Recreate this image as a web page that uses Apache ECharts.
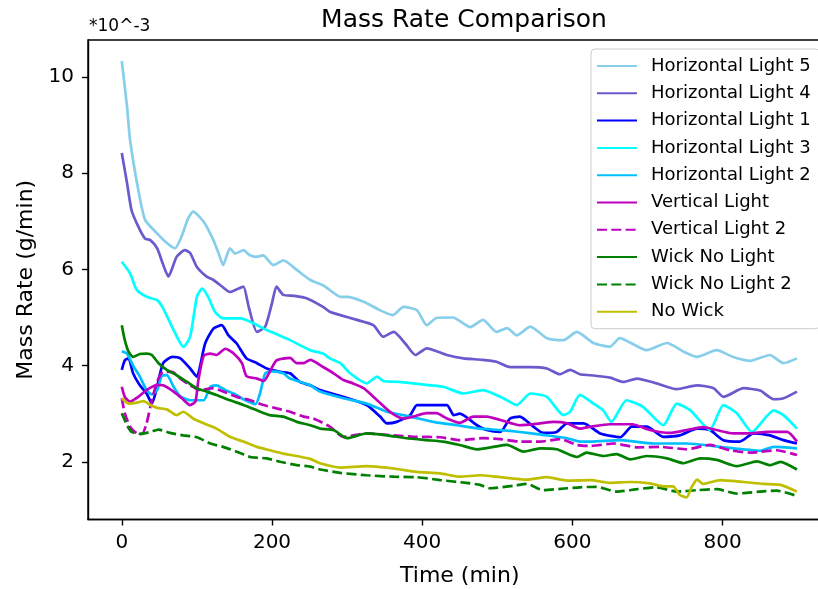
<!DOCTYPE html>
<html>
<head>
<meta charset="utf-8">
<script src="https://cdn.jsdelivr.net/npm/echarts@6/dist/echarts.min.js"></script>
<style>
  html, body { margin: 0; padding: 0; background: #fff; }
  #main { width: 818px; height: 589px; }
</style>
</head>
<body>
<div id="main"></div>
<script>
// values, [time (min), mass rate (*10^-3 g/min)]
var horizontalLight5 = [[0,10.33],[7,9.38],[11,8.69],[22,7.65],[31,7.03],[47,6.75],[60,6.55],[71,6.44],[80,6.7],[88,7.05],[95,7.2],[109,6.99],[122,6.61],[129,6.33],[135,6.09],[144,6.44],[151,6.33],[162,6.4],[170,6.3],[179,6.26],[188,6.29],[202,6.09],[211,6.16],[215,6.19],[233,5.99],[251,5.78],[268,5.67],[277,5.57],[291,5.43],[300,5.43],[322,5.33],[344,5.15],[361,5.05],[375,5.22],[393,5.15],[406,4.84],[419,4.99],[441,5.0],[464,4.8],[481,4.95],[499,4.7],[513,4.78],[526,4.63],[544,4.81],[566,4.57],[588,4.53],[606,4.7],[628,4.47],[650,4.39],[663,4.57],[699,4.32],[726,4.47],[748,4.29],[766,4.18],[792,4.32],[814,4.18],[837,4.1],[863,4.22],[881,4.05],[899,4.15]];
var horizontalLight4 = [[0,8.42],[7,7.79],[13,7.23],[22,6.89],[31,6.64],[38,6.61],[47,6.44],[55,6.1],[62,5.85],[73,6.26],[84,6.4],[91,6.34],[100,6.05],[113,5.85],[122,5.78],[133,5.65],[144,5.53],[155,5.6],[162,5.64],[169,5.22],[180,4.7],[191,4.81],[200,5.3],[206,5.64],[215,5.47],[230,5.45],[246,5.4],[268,5.22],[277,5.12],[291,5.05],[313,4.95],[335,4.84],[348,4.6],[362,4.7],[378,4.45],[391,4.22],[406,4.36],[433,4.22],[455,4.15],[480,4.12],[499,4.08],[517,3.97],[544,3.97],[566,3.94],[583,3.82],[597,3.91],[610,3.82],[624,3.8],[650,3.75],[668,3.66],[686,3.73],[712,3.63],[739,3.51],[766,3.59],[788,3.53],[801,3.35],[828,3.53],[850,3.48],[868,3.3],[881,3.32],[899,3.46]];
var horizontalLight1 = [[0,3.91],[4,4.11],[9,4.15],[15,3.84],[24,3.59],[33,3.42],[40,3.21],[47,3.56],[55,4.05],[67,4.18],[78,4.15],[91,3.94],[100,3.77],[104,3.97],[111,4.46],[122,4.77],[133,4.84],[142,4.63],[153,4.46],[166,4.15],[180,4.05],[193,3.94],[211,3.87],[224,3.84],[237,3.66],[251,3.59],[264,3.49],[295,3.35],[326,3.18],[344,2.94],[353,2.8],[366,2.83],[384,2.97],[393,3.18],[415,3.18],[433,3.18],[442,2.97],[450,3.0],[473,2.76],[486,2.66],[504,2.62],[517,2.9],[530,2.94],[548,2.73],[561,2.6],[579,2.62],[593,2.8],[615,2.8],[637,2.59],[664,2.51],[679,2.73],[699,2.73],[721,2.52],[743,2.55],[766,2.69],[783,2.66],[801,2.45],[823,2.42],[841,2.59],[863,2.55],[881,2.45],[899,2.38]];
var horizontalLight3 = [[0,6.16],[11,5.92],[20,5.57],[33,5.43],[47,5.36],[55,5.19],[69,4.74],[82,4.39],[91,4.6],[100,5.43],[107,5.6],[115,5.43],[124,5.12],[135,4.98],[158,4.98],[171,4.91],[193,4.74],[224,4.53],[251,4.32],[268,4.25],[277,4.15],[291,4.05],[304,3.84],[326,3.63],[340,3.77],[348,3.68],[370,3.66],[388,3.63],[411,3.59],[428,3.56],[455,3.42],[481,3.49],[508,3.32],[526,3.18],[544,3.42],[566,3.35],[588,2.97],[597,3.04],[610,3.39],[628,3.21],[641,3.07],[652,2.83],[672,3.28],[694,3.14],[721,2.76],[739,3.21],[757,3.07],[783,2.66],[801,3.18],[819,3.01],[839,2.62],[868,3.07],[881,2.97],[899,2.69]];
var horizontalLight2 = [[0,4.3],[7,4.25],[15,4.0],[24,3.77],[33,3.49],[40,3.4],[47,3.49],[53,3.78],[60,3.8],[69,3.56],[78,3.36],[91,3.28],[109,3.28],[118,3.56],[126,3.59],[138,3.49],[149,3.42],[162,3.3],[178,3.2],[184,3.42],[191,3.84],[200,3.88],[215,3.84],[224,3.73],[251,3.59],[264,3.46],[295,3.32],[326,3.21],[353,3.04],[384,2.94],[415,2.83],[446,2.76],[477,2.69],[504,2.66],[530,2.62],[566,2.55],[593,2.49],[610,2.42],[624,2.42],[664,2.45],[708,2.38],[752,2.38],[797,2.31],[850,2.23],[868,2.31],[899,2.28]];
var verticalLight = [[0,3.56],[4,3.35],[11,3.25],[22,3.35],[33,3.49],[47,3.6],[55,3.59],[69,3.46],[80,3.32],[91,3.18],[98,3.25],[102,3.7],[109,4.2],[118,4.25],[126,4.22],[138,4.35],[149,4.25],[160,4.05],[166,3.78],[180,3.73],[189,3.68],[197,3.87],[206,4.11],[224,4.16],[233,4.05],[242,4.05],[251,4.12],[268,3.97],[282,3.84],[295,3.7],[308,3.63],[322,3.53],[340,3.28],[357,3.04],[375,2.9],[388,2.94],[406,3.01],[419,3.01],[433,2.9],[450,2.81],[468,2.94],[486,2.94],[504,2.87],[530,2.76],[557,2.8],[575,2.83],[593,2.8],[610,2.69],[624,2.73],[650,2.78],[680,2.78],[703,2.66],[730,2.6],[752,2.66],[774,2.72],[792,2.66],[814,2.59],[837,2.59],[859,2.62],[886,2.62],[899,2.42]];
var verticalLight2 = [[0,3.32],[4,3.01],[11,2.73],[20,2.59],[27,2.58],[33,2.8],[40,3.28],[47,3.66],[55,3.87],[67,3.87],[78,3.73],[91,3.59],[104,3.49],[122,3.53],[135,3.46],[153,3.35],[171,3.28],[189,3.18],[206,3.11],[224,3.04],[242,2.94],[255,2.9],[277,2.73],[295,2.52],[326,2.59],[362,2.55],[388,2.52],[424,2.51],[450,2.45],[481,2.49],[504,2.47],[530,2.42],[557,2.42],[584,2.47],[606,2.35],[624,2.33],[655,2.38],[686,2.3],[717,2.31],[752,2.26],[783,2.35],[810,2.24],[837,2.19],[872,2.24],[899,2.14]];
var wickNoLight = [[0,4.84],[4,4.53],[9,4.29],[15,4.18],[24,4.24],[33,4.25],[40,4.22],[49,4.05],[60,3.91],[73,3.8],[87,3.66],[100,3.53],[113,3.46],[126,3.39],[144,3.28],[162,3.18],[180,3.07],[197,2.97],[215,2.94],[233,2.83],[251,2.76],[264,2.69],[282,2.66],[300,2.49],[326,2.59],[353,2.55],[379,2.49],[406,2.45],[428,2.42],[450,2.35],[473,2.26],[495,2.31],[513,2.35],[535,2.21],[557,2.28],[579,2.26],[606,2.1],[619,2.19],[641,2.12],[659,2.16],[677,2.05],[699,2.12],[726,2.07],[748,1.97],[770,2.07],[792,2.04],[819,1.91],[846,2.01],[863,1.93],[877,2.0],[899,1.84]];
var wickNoLight2 = [[0,3.01],[7,2.76],[13,2.62],[24,2.58],[38,2.62],[49,2.67],[64,2.6],[82,2.55],[100,2.51],[118,2.38],[135,2.31],[153,2.21],[171,2.1],[193,2.07],[211,2.0],[233,1.93],[251,1.9],[264,1.84],[291,1.77],[326,1.72],[362,1.69],[393,1.68],[424,1.62],[459,1.56],[477,1.52],[490,1.45],[521,1.5],[539,1.54],[561,1.41],[593,1.45],[610,1.47],[632,1.48],[659,1.38],[686,1.43],[712,1.47],[739,1.38],[766,1.41],[792,1.43],[819,1.34],[850,1.38],[872,1.4],[899,1.29]];
var noWick = [[0,3.32],[9,3.21],[20,3.23],[29,3.26],[38,3.18],[47,3.12],[60,3.09],[73,2.97],[82,3.04],[95,2.9],[109,2.8],[126,2.69],[144,2.52],[162,2.42],[180,2.31],[197,2.24],[215,2.17],[233,2.12],[251,2.06],[264,1.97],[291,1.88],[326,1.91],[362,1.86],[393,1.79],[424,1.76],[450,1.69],[477,1.72],[504,1.68],[539,1.63],[566,1.68],[593,1.61],[624,1.62],[650,1.56],[677,1.58],[703,1.55],[721,1.49],[734,1.49],[743,1.31],[752,1.26],[759,1.48],[766,1.63],[774,1.54],[797,1.62],[828,1.58],[854,1.54],[877,1.52],[899,1.38]];

var xTicks = [0, 200, 400, 600, 800];
var yTicks = [2, 4, 6, 8, 10];

var FONT = 'DejaVu Sans';

function mkLine(name, data, color, dashed) {
    return {
        name: name,
        type: 'line',
        data: data,
        symbol: 'none',
        smooth: 0.2,
        lineStyle: {
            color: color,
            width: 2.7,
            type: dashed ? [10, 4.3] : 'solid'
        },
        itemStyle: { color: color },
        emphasis: { disabled: true },
        silent: true
    };
}

var myChart = echarts.init(document.getElementById('main'));
myChart.setOption({
    animation: false,
    backgroundColor: '#fff',
    title: {
        text: 'Mass Rate Comparison',
        left: 459,
        top: 3,
        textAlign: 'center',
        textStyle: { fontFamily: FONT, fontSize: 25, fontWeight: 'normal', color: '#000' }
    },
    graphic: [{
        type: 'text',
        left: 89,
        top: 18,
        style: { text: '*10^-3', font: '17px "DejaVu Sans"', fill: '#000' }
    }],
    legend: {
        orient: 'vertical',
        align: 'left',
        left: 591,
        top: 49,
        padding: [7, 9, 7, 5],
        itemGap: 7.3,
        itemWidth: 40,
        itemHeight: 14,
        itemStyle: { opacity: 0 },
        backgroundColor: 'rgba(255,255,255,0.8)',
        borderColor: '#cccccc',
        borderWidth: 1,
        borderRadius: 4,
        textStyle: { fontFamily: FONT, fontSize: 18, color: '#000', lineHeight: 20, padding: [0, 0, 0, 9] }
    },
    grid: {
        left: 88,
        top: 40,
        right: -13.5,
        bottom: 69.5,
        outerBoundsMode: 'none',
        show: true,
        borderColor: '#000',
        borderWidth: 1.4,
        backgroundColor: 'transparent'
    },
    xAxis: {
        type: 'value',
        min: -45,
        max: 945,
        name: 'Time (min)',
        nameLocation: 'middle',
        nameGap: 46,
        nameTextStyle: { fontFamily: FONT, fontSize: 22, color: '#000' },
        axisLine: { show: true, onZero: false, lineStyle: { color: '#000', width: 1.4 } },
        axisTick: { show: true, length: 6, lineStyle: { color: '#000', width: 1.4 }, customValues: xTicks },
        axisLabel: { fontFamily: FONT, fontSize: 20, color: '#000', margin: 13, customValues: xTicks },
        splitLine: { show: false }
    },
    yAxis: {
        type: 'value',
        min: 0.8,
        max: 10.77,
        name: 'Mass Rate (g/min)',
        nameLocation: 'middle',
        nameGap: 50,
        nameTextStyle: { fontFamily: FONT, fontSize: 22, color: '#000' },
        axisLine: { show: true, onZero: false, lineStyle: { color: '#000', width: 1.4 } },
        axisTick: { show: true, length: 6, lineStyle: { color: '#000', width: 1.4 }, customValues: yTicks },
        axisLabel: { fontFamily: FONT, fontSize: 20, color: '#000', margin: 14, customValues: yTicks },
        splitLine: { show: false }
    },
    series: [
        mkLine('Horizontal Light 5', horizontalLight5, '#87CEEB', false),
        mkLine('Horizontal Light 4', horizontalLight4, '#6A5ACD', false),
        mkLine('Horizontal Light 1', horizontalLight1, '#0000FF', false),
        mkLine('Horizontal Light 3', horizontalLight3, '#00FFFF', false),
        mkLine('Horizontal Light 2', horizontalLight2, '#00BFFF', false),
        mkLine('Vertical Light', verticalLight, '#BF00BF', false),
        mkLine('Vertical Light 2', verticalLight2, '#BF00BF', true),
        mkLine('Wick No Light', wickNoLight, '#008000', false),
        mkLine('Wick No Light 2', wickNoLight2, '#008000', true),
        mkLine('No Wick', noWick, '#BFBF00', false)
    ]
});
</script>
</body>
</html>
